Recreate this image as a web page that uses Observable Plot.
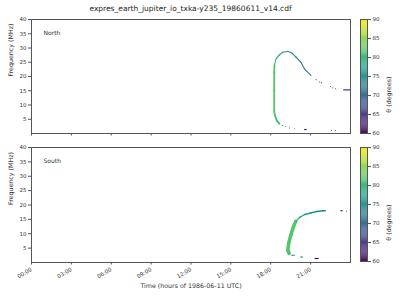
<!DOCTYPE html>
<html><head><meta charset="utf-8">
<script src="https://cdn.jsdelivr.net/npm/d3@7"></script>
<script src="https://cdn.jsdelivr.net/npm/@observablehq/plot@0.6"></script>
<style>
body{margin:0;background:#fff;font-family:"DejaVu Sans",sans-serif}
#c{position:relative;width:400px;height:300px;overflow:hidden;background:#fff}
#c>*{position:absolute}
#title{left:31px;width:319px;top:4px;text-align:center;font-size:7.5px;color:#222;white-space:nowrap}
</style></head><body>
<div id="c"><div id="title">expres_earth_jupiter_io_txka-y235_19860611_v14.cdf</div></div>
<script>
// ---- data (hours UTC, frequency MHz, theta degrees) ----
const xTicks = [0, 3, 6, 9, 12, 15, 18, 21];
const yTicks = [5, 10, 15, 20, 25, 30, 35, 40];
const cbTicks = [60, 65, 70, 75, 80, 85, 90];

// North: thick vertical part of the arc
const northVT     = [18.65, 18.45, 18.32, 18.26, 18.26, 18.26, 18.28];
const northVF     = [3.4,   4.56,  6.3,   7.7,   15.1,  21.5,  24.0];
const northVTheta = [80,    81,    82,    82,    82,    82,    81];
// North: thin upper arc
const northT     = [18.28, 18.40, 18.65, 18.90, 19.28, 19.58, 19.90, 20.27, 20.53, 21.02];
const northF     = [24.0,  26.2,  27.6,  28.5,  28.8,  28.3,  26.8,  25.0,  22.7,  20.4];
const northTheta = [80,    78,    76,    75,    75,    74,    73,    72,    71,    70];
// North: isolated short detections (start, end, freq, theta)
const northDashT1    = [21.38, 21.65, 21.78, 22.47, 22.64, 22.85, 23.45, 18.85, 19.10, 19.38, 19.75, 20.52, 22.55, 22.82];
const northDashT2    = [21.45, 21.72, 21.85, 22.53, 22.70, 22.92, 24.00, 18.95, 19.17, 19.43, 19.80, 20.70, 22.60, 22.87];
const northDashF     = [18.9,  18.0,  17.8,  16.5,  16.0,  15.7,  15.3,  2.8,   2.45,  2.0,   1.75,  1.4,   1.05,  1.05];
const northDashTheta = [68,    68,    67,    66,    66,    65,    64,    77,    76,    74,    72,    61,    61,    61];

// South: thick band and thinner upper arc
const southBandT     = [19.38, 19.28, 19.35, 19.50, 19.69, 19.88];
const southBandF     = [3.2,   4.3,   6.7,   9.4,   12.2,  14.3];
const southBandTheta = [81,    82,    82,    82,    82,    81];
const southArcT      = [19.88, 20.18, 20.55, 21.00, 21.45, 21.90, 22.10];
const southArcF      = [14.3,  15.7,  16.7,  17.2,  17.75, 18.0,  18.0];
const southArcTheta  = [80,    78,    76,    75,    74,    72,    72];
const southDashT1    = [19.55, 20.23, 21.30, 23.25, 23.68];
const southDashT2    = [19.80, 20.42, 21.60, 23.40, 23.72];
const southDashF     = [2.5,   1.9,   1.4,   18.0,  17.8];
const southDashTheta = [77,    74,    61,    61,    62];

// ---- helpers ----
function segs(t, f, th) {
  const out = [];
  for (let i = 0; i < t.length - 1; i++) out.push({x1: t[i], y1: f[i], x2: t[i + 1], y2: f[i + 1], theta: th[i]});
  return out;
}
function dashes(t1, t2, f, th) {
  return t1.map((d, i) => ({t1: d, t2: t2[i], f: f[i], theta: th[i]}));
}
const color = {type: "linear", scheme: "viridis", domain: [60, 90]};
const fmt = d => String(d).padStart(2, "0") + ":00";
const style = {fontFamily: "DejaVu Sans", fontSize: "5.5px", color: "#333", background: "transparent", overflow: "visible"};
const frameStroke = "#555";

function panel(label, lineSets, dashData, bottom) {
  const marks = [
    Plot.frame({stroke: frameStroke, strokeWidth: 1}),
    ...lineSets.map(([data, w]) => Plot.link(data, {x1: "x1", y1: "y1", x2: "x2", y2: "y2", stroke: "theta", strokeWidth: w, strokeLinecap: "round"})),
    Plot.link(dashData, {x1: "t1", x2: "t2", y1: "f", y2: "f", stroke: "theta", strokeWidth: 1.2}),
    Plot.axisY({ticks: yTicks, tickSize: 3, tickPadding: 2, label: null, stroke: frameStroke}),
    bottom
      ? Plot.axisX({ticks: xTicks, tickFormat: fmt, tickRotate: -30, tickSize: 2.5, tickPadding: 4, label: null, stroke: frameStroke})
      : Plot.axisX({ticks: xTicks, tickFormat: () => "", tickSize: 2.5, label: null, stroke: frameStroke}),
    Plot.text([label], {frameAnchor: "top-left", dx: 12, dy: 11, textAnchor: "start", fontSize: 6, fill: "#333"}),
    Plot.text(["Frequency (MHz)"], {frameAnchor: "left", rotate: -90, dx: -21, fontSize: 6.3, fill: "#333"})
  ];
  if (bottom) marks.push(Plot.text(["Time (hours of 1986-06-11 UTC)"], {frameAnchor: "bottom", dy: 25, fontSize: 6.3, fill: "#333"}));
  return Plot.plot({
    width: 360, height: bottom ? 172 : 145,
    marginLeft: 31, marginRight: 10, marginTop: 19, marginBottom: bottom ? 38 : 12,
    x: {domain: [0, 24]}, y: {domain: [0, 40]},
    color, style, marks
  });
}

function colorbar() {
  const vals = d3.range(60, 90, 0.25);
  return Plot.plot({
    width: 45, height: 145, marginLeft: 8, marginRight: 30, marginTop: 19, marginBottom: 12,
    x: {domain: [0, 1], axis: null}, y: {domain: [60, 90]},
    color, style,
    marks: [
      Plot.rect(vals, {x1: 0, x2: 1, y1: d => d, y2: d => d + 0.25, fill: d => d}),
      Plot.frame({stroke: frameStroke}),
      Plot.axisY({anchor: "right", ticks: cbTicks, tickSize: 3, tickPadding: 2, label: null, stroke: frameStroke}),
      Plot.text(["θ (degrees)"], {frameAnchor: "right", rotate: -90, dx: 21, fontSize: 6.3, fill: "#333"})
    ]
  });
}

const c = document.getElementById("c");
const north = panel("North",
  [[segs(northVT, northVF, northVTheta), 1.8], [segs(northT, northF, northTheta), 1.1]],
  dashes(northDashT1, northDashT2, northDashF, northDashTheta), false);
north.style.left = "0px"; north.style.top = "0px";
const south = panel("South",
  [[segs(southBandT, southBandF, southBandTheta), 3.5], [segs(southArcT, southArcF, southArcTheta), 1.4]],
  dashes(southDashT1, southDashT2, southDashF, southDashTheta), true);
south.style.left = "0px"; south.style.top = "128px";
const cb1 = colorbar(); cb1.style.left = "352px"; cb1.style.top = "0px";
const cb2 = colorbar(); cb2.style.left = "352px"; cb2.style.top = "128px";
c.append(north, south, cb1, cb2);
</script>
</body></html>
